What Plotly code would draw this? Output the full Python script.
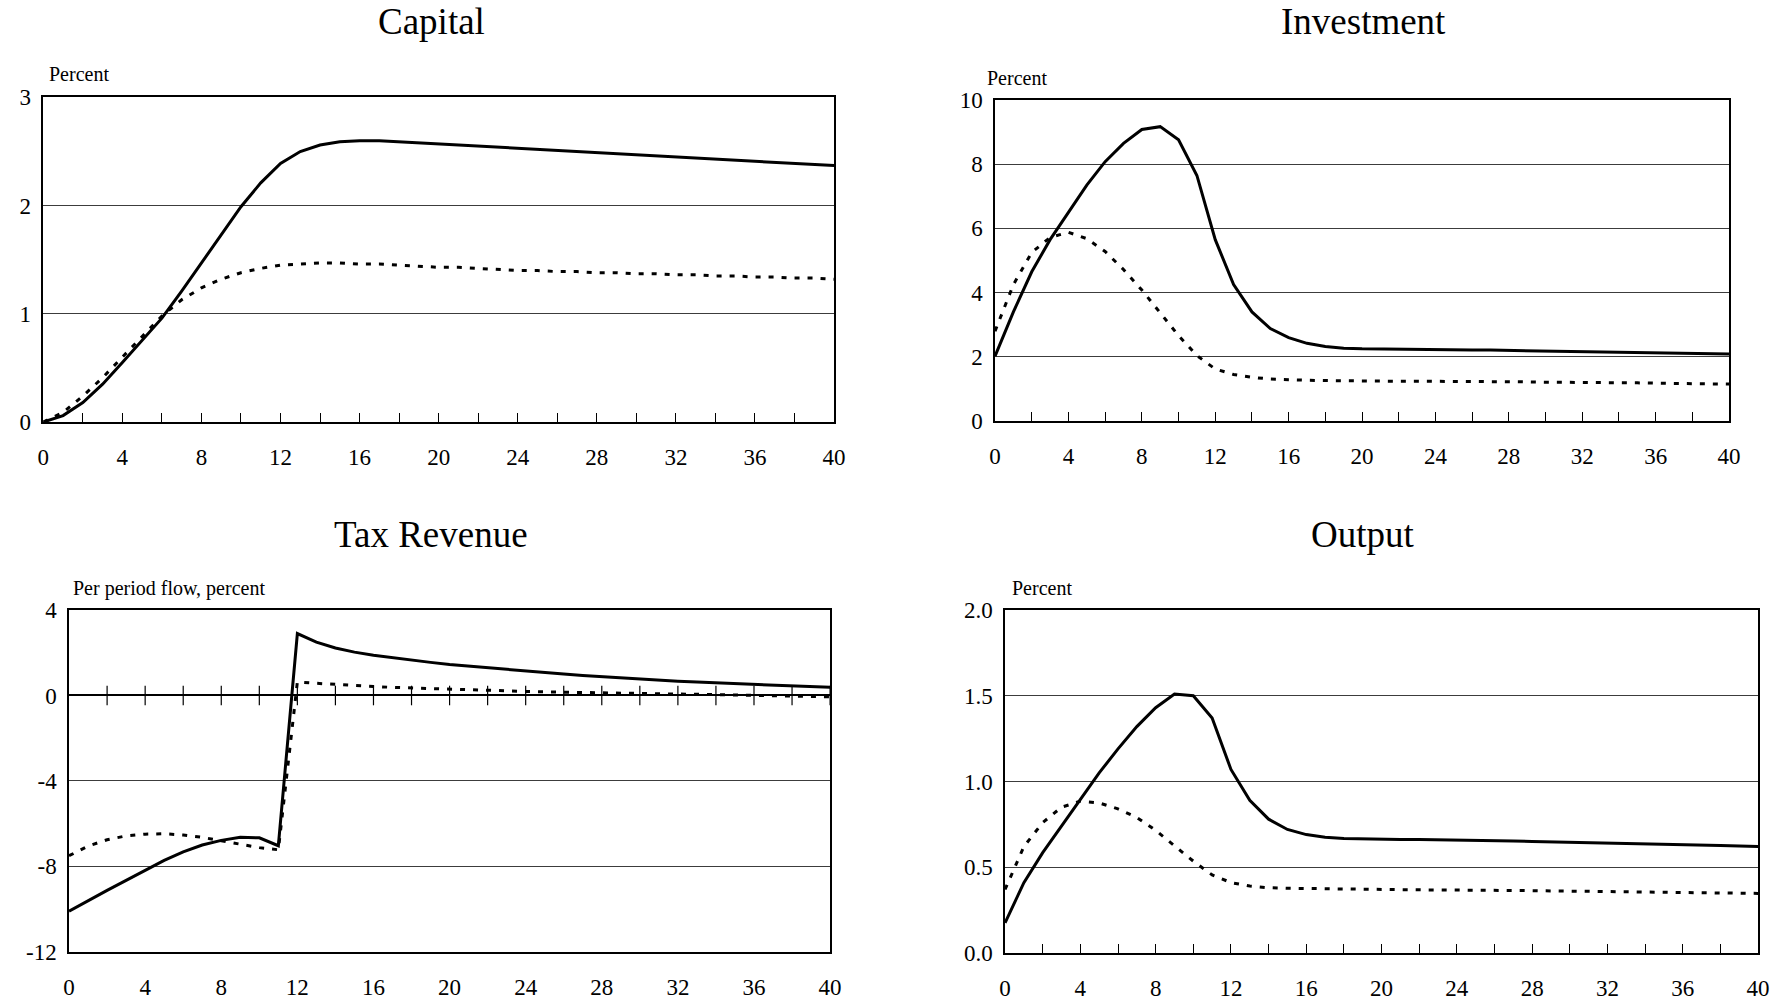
import plotly.graph_objects as go

periods = [0, 1, 2, 3, 4, 5, 6, 7, 8, 9, 10, 11, 12, 13, 14, 15, 16, 17, 18, 19, 20,
           21, 22, 23, 24, 25, 26, 27, 28, 29, 30, 31, 32, 33, 34, 35, 36, 37, 38, 39, 40]

capital_solid = [0.00, 0.06, 0.18, 0.35, 0.55, 0.75, 0.96, 1.21, 1.47, 1.73, 1.99, 2.21, 2.39,
                 2.50, 2.56, 2.59, 2.60, 2.60, 2.59, 2.58, 2.57, 2.56, 2.55, 2.54, 2.53, 2.52,
                 2.51, 2.50, 2.49, 2.48, 2.47, 2.46, 2.45, 2.44, 2.43, 2.42, 2.41, 2.40, 2.39,
                 2.38, 2.37]
capital_dotted = [0.00, 0.09, 0.24, 0.41, 0.60, 0.79, 0.98, 1.13, 1.24, 1.32, 1.38, 1.42, 1.45,
                  1.46, 1.47, 1.47, 1.46, 1.46, 1.45, 1.44, 1.43, 1.43, 1.42, 1.41, 1.40, 1.40,
                  1.39, 1.39, 1.38, 1.38, 1.37, 1.37, 1.36, 1.36, 1.35, 1.35, 1.34, 1.34, 1.33,
                  1.33, 1.32]

investment_solid = [2.02, 3.40, 4.65, 5.65, 6.50, 7.35, 8.08, 8.65, 9.08, 9.17, 8.76, 7.65, 5.65,
                    4.25, 3.40, 2.88, 2.60, 2.42, 2.32, 2.27, 2.25, 2.24, 2.23, 2.23, 2.22, 2.22,
                    2.21, 2.21, 2.20, 2.20, 2.19, 2.18, 2.17, 2.16, 2.15, 2.14, 2.13, 2.12, 2.11,
                    2.10, 2.09]
investment_dotted = [2.80, 4.25, 5.25, 5.72, 5.88, 5.68, 5.28, 4.72, 4.08, 3.38, 2.66, 2.04, 1.62,
                     1.45, 1.36, 1.31, 1.28, 1.27, 1.26, 1.25, 1.25, 1.25, 1.24, 1.24, 1.24, 1.23,
                     1.23, 1.23, 1.22, 1.22, 1.21, 1.21, 1.20, 1.20, 1.19, 1.19, 1.18, 1.17, 1.17,
                     1.16, 1.15]

tax_solid = [-10.10, -9.60, -9.12, -8.65, -8.18, -7.72, -7.32, -7.00, -6.78, -6.64, -6.66, -7.03,
             2.90, 2.50, 2.22, 2.03, 1.88, 1.76, 1.65, 1.55, 1.45, 1.37, 1.29, 1.21, 1.13, 1.07,
             1.00, 0.94, 0.88, 0.83, 0.77, 0.72, 0.67, 0.63, 0.59, 0.55, 0.51, 0.48, 0.45, 0.41,
             0.38]
tax_dotted = [-7.50, -7.05, -6.75, -6.57, -6.49, -6.47, -6.53, -6.64, -6.80, -6.97, -7.12, -7.22,
              0.63, 0.57, 0.51, 0.46, 0.42, 0.38, 0.35, 0.31, 0.28, 0.26, 0.23, 0.21, 0.19, 0.17,
              0.15, 0.14, 0.12, 0.11, 0.09, 0.08, 0.07, 0.05, 0.04, 0.02, 0.01, -0.01, -0.03,
              -0.04, -0.06]

output_solid = [0.175, 0.41, 0.585, 0.74, 0.90, 1.05, 1.19, 1.32, 1.43, 1.51, 1.50, 1.37, 1.07,
                0.89, 0.78, 0.72, 0.69, 0.675, 0.668, 0.665, 0.663, 0.662, 0.661, 0.660, 0.658,
                0.656, 0.654, 0.652, 0.650, 0.648, 0.646, 0.644, 0.641, 0.638, 0.636, 0.634,
                0.631, 0.628, 0.626, 0.623, 0.620]
output_dotted = [0.37, 0.62, 0.76, 0.85, 0.885, 0.875, 0.84, 0.79, 0.715, 0.625, 0.535, 0.455,
                 0.41, 0.39, 0.38, 0.377, 0.375, 0.374, 0.373, 0.372, 0.370, 0.369, 0.368, 0.368,
                 0.367, 0.366, 0.365, 0.364, 0.363, 0.362, 0.361, 0.360, 0.358, 0.357, 0.356,
                 0.355, 0.353, 0.352, 0.350, 0.349, 0.347]

# tick marks drawn across the zero line of the Tax Revenue panel
tax_zero_ticks_x = [2, 4, 6, 8, 10, 12, 14, 16, 18, 20, 22, 24, 26, 28, 30, 32, 34, 36, 38, 40]
tax_zero_ticks_y = [0] * len(tax_zero_ticks_x)

x_tick_vals = [0, 4, 8, 12, 16, 20, 24, 28, 32, 36, 40]
y_tick_vals = {
    1: [0, 1, 2, 3],
    2: [0, 2, 4, 6, 8, 10],
    3: [-12, -8, -4, 0, 4],
    4: [0, 0.5, 1.0, 1.5, 2.0],
}
y_tick_text = {
    1: ["0", "1", "2", "3"],
    2: ["0", "2", "4", "6", "8", "10"],
    3: ["-12", "-8", "-4", "0", "4"],
    4: ["0.0", "0.5", "1.0", "1.5", "2.0"],
}
y_ranges = {1: [0, 3], 2: [0, 10], 3: [-12, 4], 4: [0, 2]}

titles = ["Capital", "Investment", "Tax Revenue", "Output"]
unit_labels = ["Percent", "Percent", "Per period flow, percent", "Percent"]

FONT = "Liberation Serif, Times New Roman, serif"
SOLID = dict(color="black", width=3)
DOTTED = dict(color="black", width=3, dash="5px,8px")

panels = [
    (capital_solid, capital_dotted, "x", "y"),
    (investment_solid, investment_dotted, "x2", "y2"),
    (tax_solid, tax_dotted, "x3", "y3"),
    (output_solid, output_dotted, "x4", "y4"),
]

fig = go.Figure()
for solid, dotted, xa, ya in panels:
    fig.add_trace(go.Scatter(x=periods, y=dotted, mode="lines", line=DOTTED,
                             xaxis=xa, yaxis=ya, showlegend=False, hoverinfo="skip"))
    fig.add_trace(go.Scatter(x=periods, y=solid, mode="lines", line=SOLID,
                             xaxis=xa, yaxis=ya, showlegend=False, hoverinfo="skip"))

fig.add_trace(go.Scatter(x=tax_zero_ticks_x, y=tax_zero_ticks_y, mode="markers",
                         marker=dict(symbol="line-ns", size=14,
                                     line=dict(color="black", width=1.2)),
                         xaxis="x3", yaxis="y3", showlegend=False, hoverinfo="skip"))

# domains (paper fractions)
dom = {
    1: dict(x=[0.0242, 0.4662], y=[0.5788, 0.9028]),
    2: dict(x=[0.5562, 0.9665], y=[0.5798, 0.9002]),
    3: dict(x=[0.0386, 0.4640], y=[0.0500, 0.3912]),
    4: dict(x=[0.5618, 0.9827], y=[0.0490, 0.3912]),
}

layout = dict(
    width=1789, height=1002,
    margin=dict(l=0, r=0, t=0, b=0, autoexpand=False),
    paper_bgcolor="white", plot_bgcolor="white",
    font=dict(family=FONT, color="black", size=23),
    showlegend=False,
)

for i in range(1, 5):
    sx = "" if i == 1 else str(i)
    is_tax = (i == 3)
    xa = dict(
        domain=dom[i]["x"], range=[0, 40], anchor="y" + sx, automargin=False,
        tickmode="array", tickvals=x_tick_vals,
        showline=True, mirror=True, linecolor="black", linewidth=1.5,
        showgrid=False, zeroline=False,
        tickfont=dict(family=FONT, size=23, color="black"),
        ticklabelstandoff=14,
    )
    if is_tax:
        xa.update(ticks="")
    else:
        xa.update(ticks="inside", ticklen=9, tickwidth=1, tickcolor="black",
                  minor=dict(dtick=2, tick0=0, ticks="inside", ticklen=9, tickwidth=1,
                             tickcolor="black"))
    ya = dict(
        domain=dom[i]["y"], range=y_ranges[i], anchor="x" + sx, automargin=False,
        tickmode="array", tickvals=y_tick_vals[i], ticktext=y_tick_text[i],
        showline=True, mirror=True, linecolor="black", linewidth=1.5,
        showgrid=True, gridcolor="#3c3c3c", gridwidth=1,
        zeroline=is_tax, zerolinecolor="black", zerolinewidth=1.5,
        ticks="", tickfont=dict(family=FONT, size=23, color="black"),
        ticklabelstandoff=6,
    )
    layout["xaxis" + sx] = xa
    layout["yaxis" + sx] = ya

title_pos = [(0.241, 0.979), (0.762, 0.979), (0.241, 0.467), (0.762, 0.467)]
unit_pos = [(0.026, 0.926), (0.5505, 0.922), (0.0395, 0.413), (0.5645, 0.413)]

annotations = []
for t, (x, y) in zip(titles, title_pos):
    annotations.append(dict(text=t, x=x, y=y, xref="paper", yref="paper",
                            xanchor="center", yanchor="middle", showarrow=False,
                            font=dict(family=FONT, size=37, color="black")))
for t, (x, y) in zip(unit_labels, unit_pos):
    annotations.append(dict(text=t, x=x, y=y, xref="paper", yref="paper",
                            xanchor="left", yanchor="middle", showarrow=False,
                            font=dict(family=FONT, size=20, color="black")))
layout["annotations"] = annotations

fig.update_layout(**layout)
fig.write_html(
    "out.html",
    config={"displayModeBar": False},
    post_script="document.body.style.margin='0';document.body.style.padding='0';"
                "document.body.style.overflow='hidden';",
)
